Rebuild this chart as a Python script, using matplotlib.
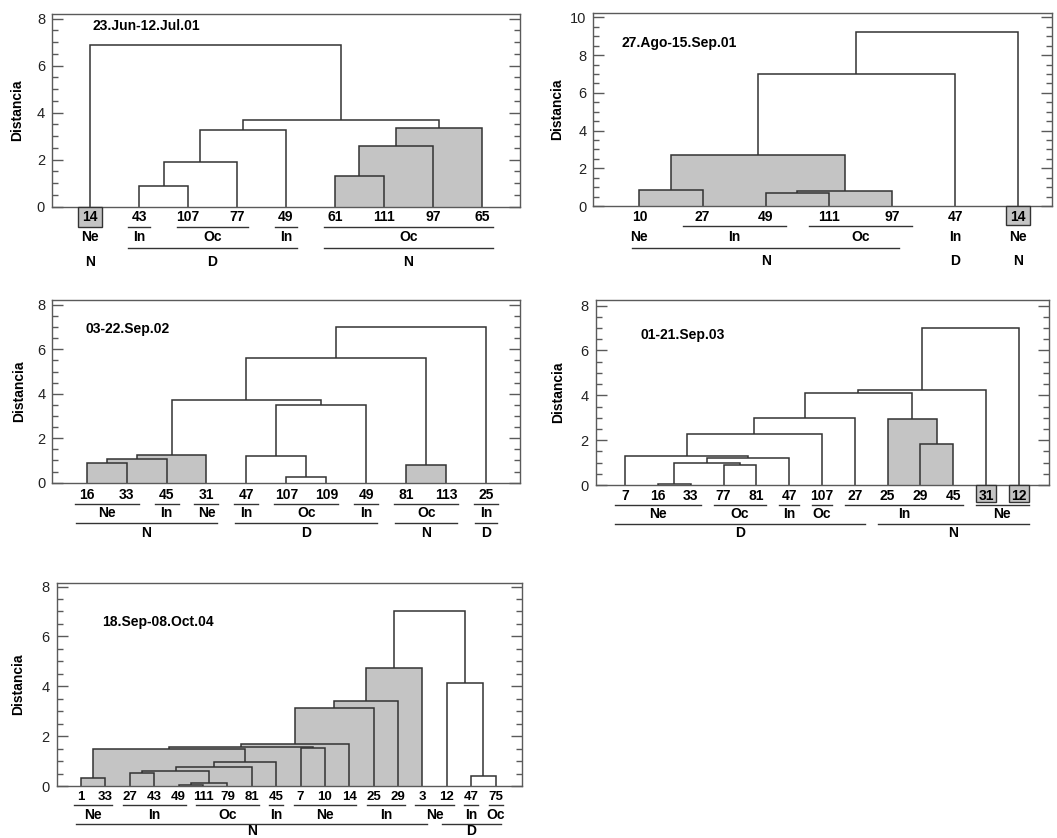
import matplotlib
matplotlib.use('Agg')
import matplotlib.pyplot as plt
from matplotlib.patches import Rectangle
from matplotlib.ticker import MultipleLocator
from matplotlib import font_manager

W, H, DPI = 1057, 838, 100

_names = {f.name for f in font_manager.fontManager.ttflist}
BASE = 'Liberation Sans' if 'Liberation Sans' in _names else 'DejaVu Sans'
NARROW = 'Liberation Sans Narrow' if 'Liberation Sans Narrow' in _names else BASE
plt.rcParams['font.family'] = [BASE, 'DejaVu Sans']

LINE = '#333333'
FILL = '#c4c4c4'
SPINE = '#5a5a5a'

# ---------------- data ----------------
# Panel 1
title1 = '23.Jun-12.Jul.01'
leaves1 = ['14', '43', '107', '77', '49', '61', '111', '97', '65']
merges1 = [  # (name, left, right, distance, shaded)
    ('A', '43', '107', 0.88, False),
    ('B', 'A', '77', 1.89, False),
    ('C', 'B', '49', 3.25, False),
    ('D', '61', '111', 1.30, True),
    ('E', 'D', '97', 2.57, True),
    ('F', 'E', '65', 3.35, True),
    ('G', 'C', 'F', 3.69, False),
    ('H', '14', 'G', 6.90, False),
]
shaded_leaves1 = ['14']
zones1 = [('Ne', '14', '14', False), ('In', '43', '43', True), ('Oc', '107', '77', True),
          ('In', '49', '49', True), ('Oc', '61', '65', True)]
regions1 = [('N', '14', '14', False), ('D', '43', '49', True), ('N', '61', '65', True)]

# Panel 2
title2 = '27.Ago-15.Sep.01'
leaves2 = ['10', '27', '49', '111', '97', '47', '14']
merges2 = [
    ('A', '10', '27', 0.85, True),
    ('B', '49', '111', 0.71, True),
    ('C', 'B', '97', 0.80, True),
    ('D', 'A', 'C', 2.70, True),
    ('E', 'D', '47', 7.00, False),
    ('F', 'E', '14', 9.24, False),
]
shaded_leaves2 = ['14']
zones2 = [('Ne', '10', '10', False), ('In', '27', '49', True), ('Oc', '111', '97', True),
          ('In', '47', '47', False), ('Ne', '14', '14', False)]
regions2 = [('N', '10', '97', True), ('D', '47', '47', False), ('N', '14', '14', False)]

# Panel 3
title3 = '03-22.Sep.02'
leaves3 = ['16', '33', '45', '31', '47', '107', '109', '49', '81', '113', '25']
merges3 = [
    ('A', '16', '33', 0.88, True),
    ('B', 'A', '45', 1.05, True),
    ('C', 'B', '31', 1.25, True),
    ('D', '107', '109', 0.24, False),
    ('E', '47', 'D', 1.20, False),
    ('F', 'E', '49', 3.51, False),
    ('G', 'C', 'F', 3.71, False),
    ('H', '81', '113', 0.79, True),
    ('I', 'G', 'H', 5.60, False),
    ('J', 'I', '25', 7.01, False),
]
shaded_leaves3 = []
zones3 = [('Ne', '16', '33', True), ('In', '45', '45', True), ('Ne', '31', '31', True),
          ('In', '47', '47', True), ('Oc', '107', '109', True), ('In', '49', '49', True),
          ('Oc', '81', '113', True), ('In', '25', '25', True)]
regions3 = [('N', '16', '31', True), ('D', '47', '49', True), ('N', '81', '113', True),
            ('D', '25', '25', True)]

# Panel 4
title4 = '01-21.Sep.03'
leaves4 = ['7', '16', '33', '77', '81', '47', '107', '27', '25', '29', '45', '31', '12']
merges4 = [
    ('A', '16', '33', 0.04, False),
    ('B', '77', '81', 0.88, False),
    ('C', 'A', 'B', 0.97, False),
    ('D', 'C', '47', 1.19, False),
    ('E', '7', 'D', 1.29, False),
    ('F', 'E', '107', 2.29, False),
    ('G', 'F', '27', 2.97, False),
    ('H', '29', '45', 1.81, True),
    ('I', '25', 'H', 2.93, True),
    ('J', 'G', 'I', 4.09, False),
    ('K', 'J', '31', 4.24, False),
    ('L', 'K', '12', 6.99, False),
]
shaded_leaves4 = ['31', '12']
zones4 = [('Ne', '7', '33', True), ('Oc', '77', '81', True), ('In', '47', '47', True),
          ('Oc', '107', '107', True), ('In', '27', '45', True), ('Ne', '31', '12', True)]
regions4 = [('D', '7', '27', True), ('N', '25', '12', True)]

# Panel 5
title5 = '18.Sep-08.Oct.04'
leaves5 = ['1', '33', '27', '43', '49', '111', '79', '81', '45', '7', '10', '14',
           '25', '29', '3', '12', '47', '75']
merges5 = [
    ('A', '1', '33', 0.32, True),
    ('B', '27', '43', 0.52, True),
    ('C', '49', '111', 0.06, True),
    ('D', 'C', '79', 0.11, True),
    ('E', 'B', 'D', 0.59, True),
    ('F', 'E', '81', 0.77, True),
    ('G', 'F', '45', 0.97, True),
    ('H', 'A', 'G', 1.48, True),
    ('I', '7', '10', 1.53, True),
    ('J', 'H', 'I', 1.57, True),
    ('K', 'J', '14', 1.69, True),
    ('L', 'K', '25', 3.12, True),
    ('M', 'L', '29', 3.39, True),
    ('N', 'M', '3', 4.72, True),
    ('O', '47', '75', 0.42, False),
    ('P', '12', 'O', 4.15, False),
    ('Q', 'N', 'P', 7.03, False),
]
shaded_leaves5 = []
zones5 = [('Ne', '1', '33', True), ('In', '27', '49', True), ('Oc', '111', '81', True),
          ('In', '45', '45', True), ('Ne', '7', '14', True), ('In', '25', '29', True),
          ('Ne', '3', '12', True), ('In', '47', '47', True), ('Oc', '75', '75', True)]
regions5 = [('N', '1', '3', True), ('D', '12', '75', True)]

# ---------------- layout ----------------
panels = [
    dict(title=title1, leaves=leaves1, merges=merges1, shaded=shaded_leaves1, zones=zones1, regions=regions1,
         rect=(52, 520, 14, 206.7), xlim=(0.22, 9.78), ymax=8.2, ytop=8, title_xy=(0.087, 0.938),
         ylab_dx=34.7, rows=(10, 20.7, 30, 41.7, 55), pads=(11, 11), box=(12, 20), leaf_font=(BASE, 10)),
    dict(title=title2, leaves=leaves2, merges=merges2, shaded=shaded_leaves2, zones=zones2, regions=regions2,
         rect=(593.3, 1051.7, 12.7, 206), xlim=(0.27, 7.53), ymax=10.25, ytop=10, title_xy=(0.062, 0.845),
         ylab_dx=36.6, rows=(11, 20, 31, 42, 55), pads=(20, 7), box=(12, 19.5), leaf_font=(BASE, 10)),
    dict(title=title3, leaves=leaves3, merges=merges3, shaded=shaded_leaves3, zones=zones3, regions=regions3,
         rect=(52.3, 520, 300, 482.7), xlim=(0.14, 11.85), ymax=8.22, ytop=8, title_xy=(0.072, 0.841),
         ylab_dx=33, rows=(12.3, 21.3, 30.7, 40, 50.7), pads=(12, 11), box=(11, 19), leaf_font=(BASE, 10)),
    dict(title=title4, leaves=leaves4, merges=merges4, shaded=shaded_leaves4, zones=zones4, regions=regions4,
         rect=(595.7, 1049, 300, 485), xlim=(0.1, 13.92), ymax=8.25, ytop=8, title_xy=(0.099, 0.81),
         ylab_dx=37.4, rows=(10.7, 20, 29.3, 38.7, 48.3), pads=(10, 10), box=(10, 17.3), leaf_font=(BASE, 10)),
    dict(title=title5, leaves=leaves5, merges=merges5, shaded=shaded_leaves5, zones=zones5, regions=regions5,
         rect=(56.7, 521.7, 583.3, 786), xlim=(0.0, 19.07), ymax=8.13, ytop=8, title_xy=(0.097, 0.81),
         ylab_dx=38.3, rows=(10.7, 19.3, 29, 38, 45.2), pads=(7, 5), box=(10, 17), leaf_font=(NARROW, 9.5)),
]

fig = plt.figure(figsize=(W / DPI, H / DPI), dpi=DPI)


def draw(p):
    l, r, t, b = p['rect']
    aw, ah = r - l, b - t
    ax = fig.add_axes([l / W, 1 - b / H, aw / W, ah / H])
    x0, x1 = p['xlim']
    ax.set_xlim(x0, x1)
    ax.set_ylim(0, p['ymax'])
    dpx = (x1 - x0) / aw  # data units per pixel in x

    pos = {lab: i + 1 for i, lab in enumerate(p['leaves'])}
    hgt = {lab: 0.0 for lab in p['leaves']}
    for name, a, c, h, sh in p['merges']:
        xa, xc = pos[a], pos[c]
        if sh:
            ax.add_patch(Rectangle((xa, 0), xc - xa, h, facecolor=FILL, edgecolor='none', zorder=1))
        ax.plot([xa, xa, xc, xc], [hgt[a], h, h, hgt[c]], color=LINE, lw=1.1, zorder=2,
                solid_joinstyle='miter', solid_capstyle='butt')
        pos[name] = (xa + xc) / 2.0
        hgt[name] = h

    # spines / ticks
    for s in ax.spines.values():
        s.set_color(SPINE)
        s.set_linewidth(1.0)
    ax.set_xticks([])
    ax.set_yticks(list(range(0, p['ytop'] + 1, 2)))
    ax.yaxis.set_minor_locator(MultipleLocator(0.5))
    ax.tick_params(axis='y', which='both', direction='in', left=True, right=True,
                   color=SPINE, labelsize=10.5, labelcolor='#222222', pad=5)
    ax.tick_params(axis='y', which='major', length=8, width=1)
    ax.tick_params(axis='y', which='minor', length=4, width=1)

    xt = ax.get_xaxis_transform()
    rows = p['rows']

    def yf(px):
        return -px / ah

    # shaded leaf boxes
    hw, bh = p['box']
    for lab in p['shaded']:
        ax.add_patch(Rectangle((pos[lab] - hw * dpx, yf(bh)), 2 * hw * dpx, bh / ah, transform=xt,
                               facecolor=FILL, edgecolor=LINE, lw=1.0, clip_on=False, zorder=3))

    fam, fs = p['leaf_font']
    for lab in p['leaves']:
        ax.text(pos[lab], yf(rows[0]), lab, transform=xt, ha='center', va='center',
                fontsize=fs, fontweight='bold', family=[fam, 'DejaVu Sans'], zorder=4, clip_on=False)

    for groups, li, ti, pad in ((p['zones'], 1, 2, p['pads'][0]), (p['regions'], 3, 4, p['pads'][1])):
        for lab, g0, g1, has_line in groups:
            xa, xb = pos[g0], pos[g1]
            if has_line:
                ax.plot([xa - pad * dpx, xb + pad * dpx], [yf(rows[li])] * 2, transform=xt,
                        color=LINE, lw=1.0, clip_on=False)
            ax.text((xa + xb) / 2.0, yf(rows[ti]), lab, transform=xt, ha='center', va='center',
                    fontsize=10, fontweight='bold', clip_on=False)

    tx, ty = p['title_xy']
    ax.text(tx, ty, p['title'], transform=ax.transAxes, ha='left', va='center',
            fontsize=10, fontweight='bold')
    ax.text(-p['ylab_dx'] / aw, 0.5, 'Distancia', transform=ax.transAxes, rotation=90,
            ha='center', va='center', fontsize=10, fontweight='bold')


for p in panels:
    draw(p)

fig.savefig('out.png', dpi=DPI)
